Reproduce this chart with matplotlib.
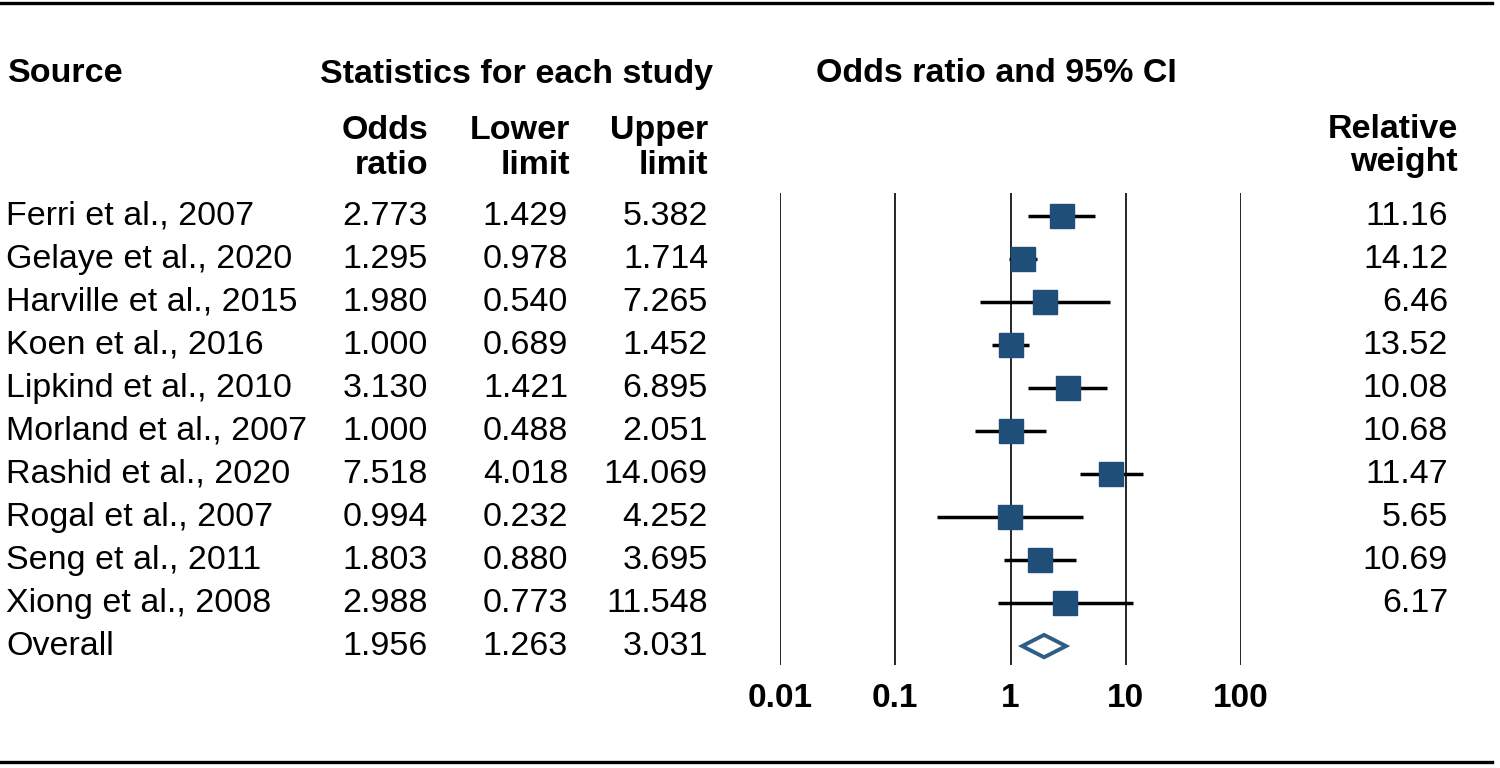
import numpy as np
import matplotlib.pyplot as plt
from matplotlib import transforms

plt.rcParams['font.family'] = ['Liberation Sans', 'DejaVu Sans']

studies = ['Ferri et al., 2007', 'Gelaye et al., 2020', 'Harville et al., 2015',
           'Koen et al., 2016', 'Lipkind et al., 2010', 'Morland et al., 2007',
           'Rashid et al., 2020', 'Rogal et al., 2007', 'Seng et al., 2011',
           'Xiong et al., 2008']
odds = [2.773, 1.295, 1.980, 1.000, 3.130, 1.000, 7.518, 0.994, 1.803, 2.988]
lower = [1.429, 0.978, 0.540, 0.689, 1.421, 0.488, 4.018, 0.232, 0.880, 0.773]
upper = [5.382, 1.714, 7.265, 1.452, 6.895, 2.051, 14.069, 4.252, 3.695, 11.548]
weights = [11.16, 14.12, 6.46, 13.52, 10.08, 10.68, 11.47, 5.65, 10.69, 6.17]
overall = ('Overall', 1.956, 1.263, 3.031)
ticks = [0.01, 0.1, 1, 10, 100]
tick_labels = ['0.01', '0.1', '1', '10', '100']

W, H = 1500, 768
fig = plt.figure(figsize=(15, 7.68), dpi=100)

# forest plot area (pixel box 780..1241 x 193..665)
ax = fig.add_axes([780 / W, 1 - 665 / H, 461 / W, 472 / H])
ax.set_xscale('log')
ax.set_xlim(0.01, 100)
n = len(studies)
ax.set_ylim(10.44, -0.535)
for s in ax.spines.values():
    s.set_visible(False)
ax.set_yticks([])
ax.set_xticks(ticks)
ax.set_xticklabels(tick_labels, fontsize=24, fontweight='bold')
ax.tick_params(axis='x', length=0, pad=13)
ax.minorticks_off()
ax.vlines(ticks, 10.44, -0.535, color='black', lw=1.2)

rows = np.arange(n)
ax.hlines(rows, lower, upper, color='black', lw=2.5, zorder=2)
ax.plot(odds, rows, 's', color='#1F4E79', ms=17, zorder=3)

name, o_or, o_lo, o_hi = overall
yo = n
ax.fill([o_lo, o_or, o_hi, o_or], [yo, yo - 0.26, yo, yo + 0.26],
        facecolor='white', edgecolor='#2E5D86', lw=2.8, zorder=3)

# table text
tr = transforms.blended_transform_factory(fig.transFigure, ax.transData)
fs = 24.5
all_names = studies + [name]
all_or = odds + [o_or]
all_lo = lower + [o_lo]
all_hi = upper + [o_hi]
for i in range(n + 1):
    fig.text(6 / W, i, all_names[i], transform=tr, fontsize=fs, va='center', ha='left')
    fig.text(428 / W, i, f'{all_or[i]:.3f}', transform=tr, fontsize=fs, va='center', ha='right')
    fig.text(568 / W, i, f'{all_lo[i]:.3f}', transform=tr, fontsize=fs, va='center', ha='right')
    fig.text(708 / W, i, f'{all_hi[i]:.3f}', transform=tr, fontsize=fs, va='center', ha='right')
for i in range(n):
    fig.text(1448 / W, i, f'{weights[i]:.2f}', transform=tr, fontsize=fs, va='center', ha='right')

# headers
def px(x, y):
    return x / W, 1 - y / H

hb = dict(fontsize=fs, fontweight='bold', va='center')
fig.text(*px(8, 74), 'Source', ha='left', **hb)
fig.text(*px(516, 74), 'Statistics for each study', ha='center', **hb)
fig.text(*px(996, 74), 'Odds ratio and 95% CI', ha='center', **hb)
fig.text(*px(428, 148), 'Odds\nratio', ha='right', linespacing=1.2, **hb)
fig.text(*px(570, 148), 'Lower\nlimit', ha='right', linespacing=1.2, **hb)
fig.text(*px(708, 148), 'Upper\nlimit', ha='right', linespacing=1.2, **hb)
fig.text(*px(1458, 146), 'Relative\nweight', ha='right', linespacing=1.05, **hb)

# rules top and bottom
fig.add_artist(plt.Line2D([0, 1492 / W], [1 - 3 / H] * 2, color='black', lw=2.4))
fig.add_artist(plt.Line2D([0, 1492 / W], [1 - 762 / H] * 2, color='black', lw=2.4))

fig.savefig('out.png', dpi=100)
